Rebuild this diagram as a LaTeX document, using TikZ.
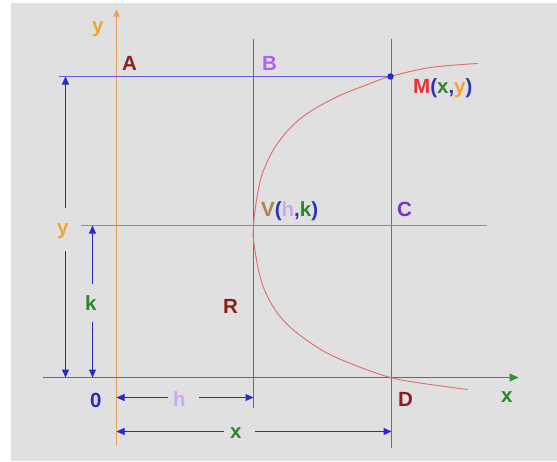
\documentclass[tikz,border=0pt]{standalone}
\usepackage{fontspec}
\setmainfont{Liberation Sans}
\usetikzlibrary{arrows.meta}
\definecolor{bgc}{RGB}{224,224,224}
\definecolor{lineblue}{RGB}{95,95,235}
\definecolor{dimblue}{RGB}{40,40,205}
\definecolor{axorange}{RGB}{230,160,90}
\definecolor{curvered}{RGB}{230,105,105}
\definecolor{axgreen}{RGB}{105,180,105}
\definecolor{txtgreen}{RGB}{40,135,40}
\definecolor{txtorange}{RGB}{240,165,50}
\definecolor{darkred}{RGB}{140,30,30}
\definecolor{violB}{RGB}{170,100,240}
\definecolor{violC}{RGB}{120,50,200}
\definecolor{mred}{RGB}{235,50,50}
\definecolor{vbrown}{RGB}{170,130,80}
\definecolor{hviol}{RGB}{200,170,245}
\definecolor{parblue}{RGB}{50,50,180}
\tikzset{
  lbl/.style={inner sep=0pt, anchor=base west, font=\fontsize{20.5}{24}\selectfont\bfseries},
  guide/.style={draw=lineblue, line width=1pt},
  dim/.style={draw=dimblue, line width=1pt, -{Triangle[length=8pt,width=7pt]}, color=dimblue},
  curve/.style={draw=curvered, line width=0.9pt},
}
\begin{document}
\begin{tikzpicture}[x=1pt,y=-1pt]
\useasboundingbox (0,0) rectangle (557,461);
\fill[bgc] (11,3) rectangle (557,461);
\begin{scope}[xshift=0.5pt, yshift=-0.5pt]
% coordinates
\coordinate (yaxB) at (116,445);
\coordinate (yaxT) at (116,9);
\coordinate (xaxL) at (42,377);
\coordinate (xaxR) at (518,377);
\coordinate (topL) at (58,76);
\coordinate (M) at (390,76);
\coordinate (vbT) at (253,38);
\coordinate (vbB) at (253,407);
\coordinate (vcT) at (391,38);
\coordinate (vcB) at (391,447);
\coordinate (redL) at (80,225);
\coordinate (redR) at (486,225);
% axes
\draw[draw=axorange, line width=1pt, -{Triangle[length=7pt,width=6pt]}, color=axorange] (yaxB) -- (yaxT);
\draw[draw=axgreen, line width=1pt, -{Triangle[length=9pt,width=8pt]}, color=txtgreen!80!axgreen] (xaxL) -- (xaxR);
% guides
\draw[guide] (topL) -- (M);
\draw[guide] (vbT) -- (vbB);
\draw[guide] (vcT) -- (vcB);
\draw[curve] (redL) -- (redR);
% parabola
\draw[curve] plot[smooth, tension=0.6] coordinates {(477,63) (430,67) (390,76) (367,84) (333,98) (300,118) (277,143) (263,170) (257,194) (253,225) (254,247) (263,287) (283,320) (317,347) (350,363) (390,377) (423,383) (467,389)};
\fill[dimblue] (M) circle (3.2pt);
% dimension arrows
\coordinate (dyT) at (65,76); \coordinate (dyA) at (65,207);
\coordinate (dyB) at (65,250); \coordinate (dyD) at (65,377);
\draw[dim] (dyA) -- (dyT); \draw[dim] (dyB) -- (dyD);
\coordinate (dkT) at (92,225); \coordinate (dkA) at (92,283);
\coordinate (dkB) at (92,321); \coordinate (dkD) at (92,377);
\draw[dim] (dkA) -- (dkT); \draw[dim] (dkB) -- (dkD);
\coordinate (dhL) at (116,397); \coordinate (dhA) at (167,397);
\coordinate (dhB) at (198,397); \coordinate (dhR) at (253,397);
\draw[dim] (dhA) -- (dhL); \draw[dim] (dhB) -- (dhR);
\coordinate (dxL) at (116,431); \coordinate (dxA) at (223,431);
\coordinate (dxB) at (254,431); \coordinate (dxR) at (391,431);
\draw[dim] (dxA) -- (dxL); \draw[dim] (dxB) -- (dxR);
\end{scope}
% labels
\node[lbl, text=txtorange] (ly1) at (92,32) {y};
\node[lbl, text=darkred] (lA) at (122,70) {A};
\node[lbl, text=violB] (lB) at (262,70) {B};
\node[lbl] (lM) at (413,93) {\textcolor{mred}{M}\textcolor{parblue}{(}\textcolor{txtgreen}{x}\textcolor{parblue}{,}\textcolor{txtorange}{y}\textcolor{parblue}{)}};
\node[lbl] (lV) at (261,216) {\textcolor{vbrown}{V}\textcolor{parblue}{(}\textcolor{hviol}{h}\textcolor{parblue}{,}\textcolor{txtgreen}{k}\textcolor{parblue}{)}};
\node[lbl, text=violC] (lC) at (397,216) {C};
\node[lbl, text=txtorange] (ly2) at (57,234) {y};
\node[lbl, text=txtgreen] (lk) at (85,310) {k};
\node[lbl, text=darkred] (lR) at (223,313) {R};
\node[lbl, text=dimblue] (l0) at (90,407) {0};
\node[lbl, text=hviol] (lh) at (173,406) {h};
\node[lbl, text=darkred] (lD) at (398,406) {D};
\node[lbl, text=txtgreen] (lx1) at (501,402) {x};
\node[lbl, text=txtgreen] (lx2) at (230,438) {x};
\end{tikzpicture}
\end{document}
